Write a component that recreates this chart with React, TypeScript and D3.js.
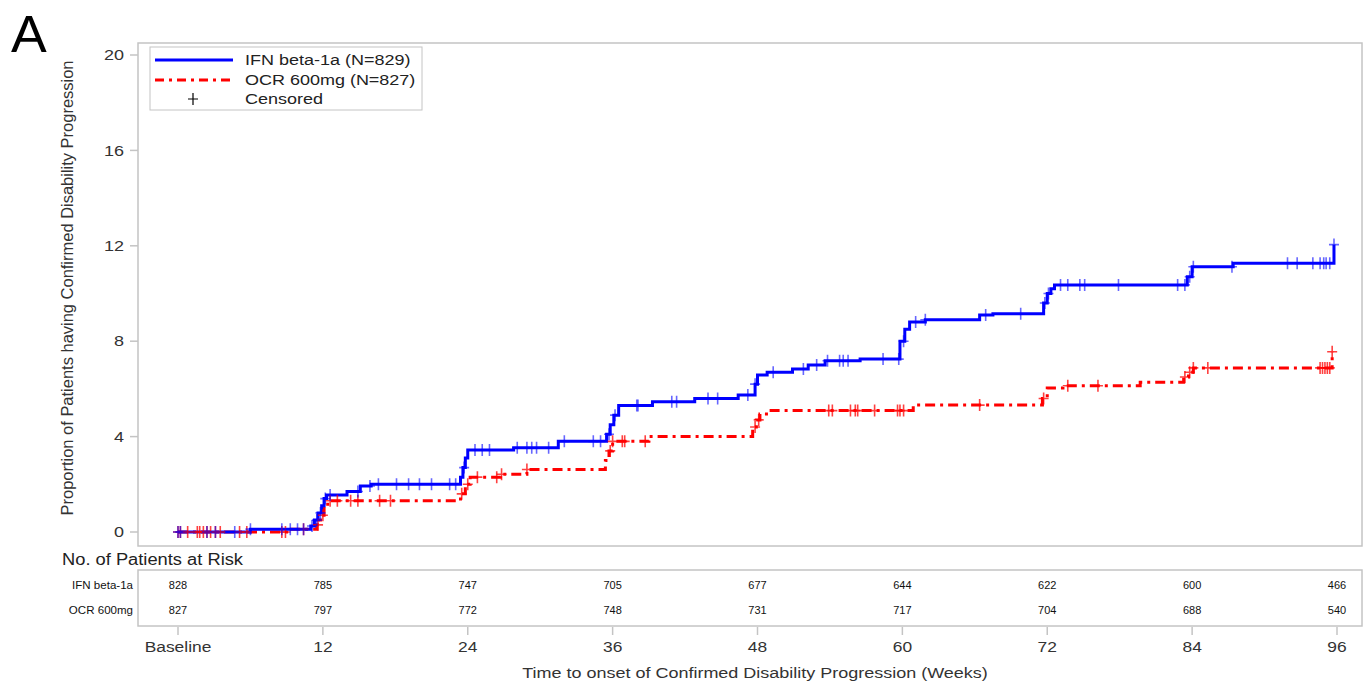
import * as d3 from "d3";
import type { ReactNode } from "react";

// week ticks along x and the labels shown under them
const weekTicks = [0, 12, 24, 36, 48, 60, 72, 84, 96];
const weekLabels = ["Baseline", "12", "24", "36", "48", "60", "72", "84", "96"];
const yTicks = [0, 4, 8, 12, 16, 20];

// patients at risk
const ifnRisk = [828, 785, 747, 705, 677, 644, 622, 600, 466];
const ocrRisk = [827, 797, 772, 748, 731, 717, 704, 688, 540];

// KM steps (week, cumulative %)
const ifnTimes = [0, 6, 11, 11.3, 11.6, 11.9, 12.1, 12.3, 14, 15.1, 16, 23.4, 23.6, 23.8, 24, 27.8, 31.5, 35.5, 35.8, 36.1, 36.5, 39.3, 42.8, 46.4, 47.8, 48, 48.8, 50.9, 52.2, 53.6, 56.5, 59.8, 60.2, 60.6, 61.9, 66.4, 67.5, 71.7, 72, 72.3, 72.6, 83.6, 84, 87.4, 95.75];
const ifnValues = [0, 0.12, 0.25, 0.5, 0.8, 1.1, 1.4, 1.55, 1.7, 1.93, 2.0, 2.3, 2.7, 3.1, 3.44, 3.53, 3.8, 4.1, 4.5, 4.9, 5.3, 5.46, 5.6, 5.74, 6.2, 6.58, 6.7, 6.83, 7.0, 7.18, 7.25, 8.0, 8.5, 8.8, 8.9, 9.1, 9.15, 9.6, 10.0, 10.2, 10.36, 10.7, 11.12, 11.27, 12.05];

const ocrTimes = [0, 9, 11.5, 11.8, 12.1, 12.4, 23.4, 23.8, 24.2, 26.7, 28.9, 35.4, 35.7, 36, 39, 47.6, 47.9, 48.2, 49, 60.9, 71.6, 72, 73.3, 79.7, 83.3, 83.7, 84.1, 95.6];
const ocrValues = [0, 0.12, 0.3, 0.7, 1.1, 1.31, 1.6, 2.0, 2.3, 2.42, 2.62, 3.0, 3.4, 3.8, 4.0, 4.4, 4.7, 4.95, 5.09, 5.32, 5.6, 6.04, 6.13, 6.28, 6.5, 6.7, 6.88, 7.56];

// censoring times (weeks)
const ifnCensor = [0, 0.2, 2.4, 3.1, 4.7, 6, 8.6, 9.3, 9.9, 10.4, 11.1, 11.5, 11.8, 12.2, 12.6, 14.9, 15.9, 16.6, 18.1, 19.1, 20, 21, 22.5, 23, 23.7, 24.6, 25.2, 25.8, 28.1, 28.9, 29.3, 29.7, 30.7, 32, 34.4, 35, 35.7, 36.2, 38, 38.1, 40.9, 41.3, 43.9, 44.7, 47.2, 47.8, 49.3, 51.8, 52.9, 53.8, 54.8, 55.1, 55.5, 58.4, 59.7, 60.1, 61.1, 61.9, 66.9, 69.8, 71.8, 72.1, 73.1, 73.7, 74.7, 75.1, 77.9, 82.8, 83.4, 83.8, 84.1, 87.3, 91.9, 92.7, 94, 94.6, 94.9, 95.1, 95.4, 95.75];
const ocrCensor = [0, 0.2, 0.8, 1.6, 1.8, 2.1, 2.4, 2.7, 3.1, 3.5, 5.1, 5.7, 8.6, 8.9, 10.4, 11.6, 12.0, 12.6, 13.2, 14.3, 14.9, 16.7, 17.6, 23.5, 24.0, 24.8, 26.4, 26.8, 28.9, 35.8, 36, 36.8, 37, 38.7, 47.8, 48.1, 53.9, 54.2, 55.7, 56.1, 56.3, 57.7, 59.6, 59.8, 60.1, 66.4, 71.7, 73.7, 76.2, 83.4, 83.8, 84.1, 85.3, 94.6, 94.8, 95.0, 95.2, 95.4, 95.6];

const FONT = "'Liberation Sans', Arial, sans-serif";
const GRAY = "#c4c4c4";
const SX = 1.2; // source image text is stretched horizontally

const box = { left: 138, right: 1362, top: 43, bottom: 546 };
const x = d3.scaleLinear().domain([0, 96]).range([178, 1337]);
const y = d3.scaleLinear().domain([0, 20]).range([532, 55]);

function valueAt(times: number[], values: number[], t: number) {
  const i = d3.bisectRight(times, t) - 1;
  return values[Math.max(0, i)];
}

const line = d3
  .line<[number, number]>()
  .x((d) => x(d[0]))
  .y((d) => y(d[1]))
  .curve(d3.curveStepAfter);

const ifnPath = line(ifnTimes.map((t, i) => [t, ifnValues[i]] as [number, number])) ?? "";
const ocrPath = line(ocrTimes.map((t, i) => [t, ocrValues[i]] as [number, number])) ?? "";

const plus = "M-5,0H5M0,-6V6";

function T(props: { x: number; y: number; size: number; anchor?: string; sx?: number; fill?: string; children: ReactNode }) {
  const { x: tx, y: ty, size, anchor = "start", sx = SX, fill = "#333", children } = props;
  return (
    <text transform={`translate(${tx},${ty}) scale(${sx},1)`} dy="0.35em" fontSize={size} textAnchor={anchor} fill={fill}>
      {children}
    </text>
  );
}

export default function App() {
  return (
    <svg width={1364} height={682} style={{ display: "block", position: "absolute", left: 0, top: 0 }} fontFamily={FONT}>
      <rect width={1364} height={682} fill="#fff" />
      <text transform="translate(11,52) scale(1.05,1)" fontSize={51} fill="#000">A</text>

      {/* plot frame */}
      <rect x={box.left} y={box.top} width={box.right - box.left} height={box.bottom - box.top} fill="none" stroke={GRAY} strokeWidth={1.5} />

      {/* y axis */}
      {yTicks.map((t) => (
        <g key={t}>
          <line x1={box.left - 8} x2={box.left} y1={y(t)} y2={y(t)} stroke={GRAY} strokeWidth={1.5} />
          <T x={124} y={y(t)} size={15} anchor="end">{t}</T>
        </g>
      ))}
      <text transform="translate(73,288) rotate(-90)" textAnchor="middle" fontSize={16} fill="#333" textLength={455} lengthAdjust="spacingAndGlyphs">
        Proportion of Patients having Confirmed Disability Progression
      </text>

      {/* curves */}
      <path d={ocrPath} fill="none" stroke="#ff0000" strokeWidth={3} strokeDasharray="10,5,3,5" />
      <path d={ifnPath} fill="none" stroke="#0000ff" strokeWidth={3} />
      {ocrCensor.map((t, i) => (
        <path key={`o${i}`} d={plus} transform={`translate(${x(t)},${y(valueAt(ocrTimes, ocrValues, t))})`} stroke="#ff0000" strokeWidth={1.6} strokeOpacity={0.75} fill="none" />
      ))}
      {ifnCensor.map((t, i) => (
        <path key={`i${i}`} d={plus} transform={`translate(${x(t)},${y(valueAt(ifnTimes, ifnValues, t))})`} stroke="#0000ff" strokeWidth={1.6} strokeOpacity={0.6} fill="none" />
      ))}

      {/* legend */}
      <rect x={150} y={47} width={272} height={63} fill="#fff" stroke={GRAY} strokeWidth={1} />
      <line x1={155} x2={233} y1={60} y2={60} stroke="#0000ff" strokeWidth={3} />
      <line x1={155} x2={233} y1={80} y2={80} stroke="#ff0000" strokeWidth={3} strokeDasharray="9,5,3,5" />
      <path d={plus} transform="translate(193,99)" stroke="#000" strokeWidth={1.2} fill="none" />
      <T x={245} y={60} size={15} fill="#222">IFN beta-1a (N=829)</T>
      <T x={245} y={80} size={15} fill="#222">OCR 600mg (N=827)</T>
      <T x={245} y={99} size={15} fill="#222">Censored</T>

      {/* at risk table */}
      <text x={62} y={559} dy="0.35em" fontSize={16} fill="#222" textLength={181} lengthAdjust="spacingAndGlyphs">No. of Patients at Risk</text>
      <rect x={box.left} y={570} width={box.right - box.left} height={56} fill="none" stroke={GRAY} strokeWidth={1.5} />
      <T x={133} y={585} size={11} anchor="end" sx={1.05} fill="#111">IFN beta-1a</T>
      <T x={133} y={610} size={11} anchor="end" sx={1.05} fill="#111">OCR 600mg</T>
      {weekTicks.map((t, i) => (
        <g key={t}>
          <T x={x(t)} y={585} size={11} anchor="middle" sx={1} fill="#111">{ifnRisk[i]}</T>
          <T x={x(t)} y={610} size={11} anchor="middle" sx={1} fill="#111">{ocrRisk[i]}</T>
          <line x1={x(t)} x2={x(t)} y1={627} y2={635} stroke={GRAY} strokeWidth={1.5} />
          <T x={x(t)} y={647} size={14.5} anchor="middle">{weekLabels[i]}</T>
        </g>
      ))}
      <T x={755} y={673} size={15} anchor="middle">
        Time to onset of Confirmed Disability Progression (Weeks)
      </T>
    </svg>
  );
}
